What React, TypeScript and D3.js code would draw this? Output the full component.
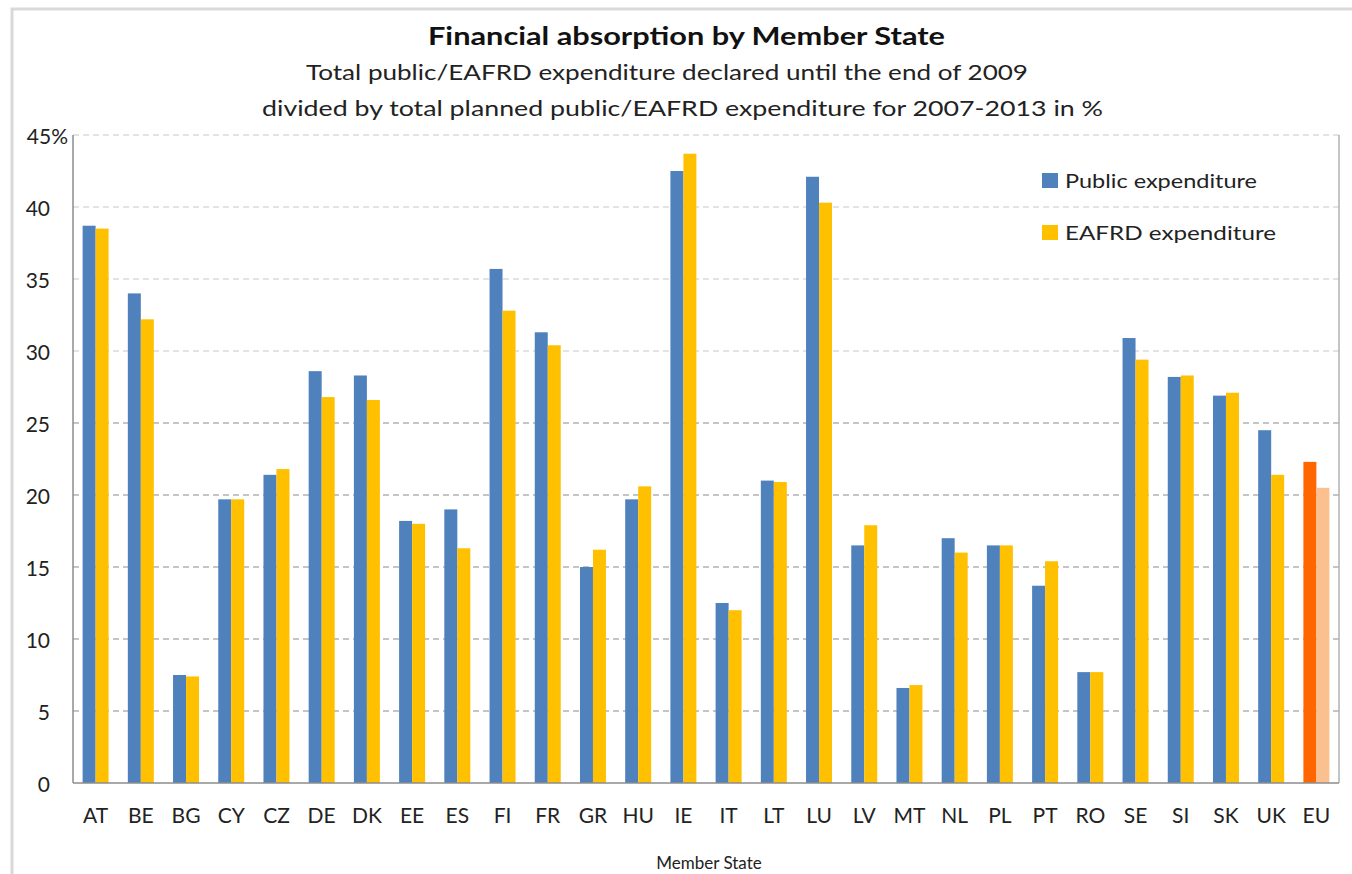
import React from 'react';
import * as d3 from 'd3';

const states = ['AT', 'BE', 'BG', 'CY', 'CZ', 'DE', 'DK', 'EE', 'ES', 'FI', 'FR', 'GR', 'HU', 'IE', 'IT',
  'LT', 'LU', 'LV', 'MT', 'NL', 'PL', 'PT', 'RO', 'SE', 'SI', 'SK', 'UK', 'EU'];
const publicExp = [38.7, 34.0, 7.5, 19.7, 21.4, 28.6, 28.3, 18.2, 19.0, 35.7, 31.3, 15.0, 19.7, 42.5, 12.5,
  21.0, 42.1, 16.5, 6.6, 17.0, 16.5, 13.7, 7.7, 30.9, 28.2, 26.9, 24.5, 22.3];
const eafrdExp = [38.5, 32.2, 7.4, 19.7, 21.8, 26.8, 26.6, 18.0, 16.3, 32.8, 30.4, 16.2, 20.6, 43.7, 12.0,
  20.9, 40.3, 17.9, 6.8, 16.0, 16.5, 15.4, 7.7, 29.4, 28.3, 27.1, 21.4, 20.5];
const yTicks = [0, 5, 10, 15, 20, 25, 30, 35, 40, 45];
const seriesNames = ['Public expenditure', 'EAFRD expenditure'];

const W = 1352, H = 874;
const m = { left: 73, right: 1339, top: 135, bottom: 783 };
const font = 'Lato, "Open Sans", sans-serif';

// colours: EU bars are highlighted
const blue = '#4F81BD', yellow = '#FFC000', euPublic = '#FF6600', euEafrd = '#FAC090';

export default function App() {
  const x = d3.scaleBand<string>().domain(states).range([m.left, m.right]).paddingInner(0).paddingOuter(0);
  const inner = d3.scaleBand<string>().domain(['p', 'e']).range([0, x.bandwidth()]).paddingInner(0).paddingOuter(0.74);
  const y = d3.scaleLinear().domain([0, 45]).range([m.bottom, m.top]);

  const barColor = (s: string, k: string) =>
    s === 'EU' ? (k === 'p' ? euPublic : euEafrd) : (k === 'p' ? blue : yellow);

  return (
    <svg width={W} height={H} style={{ position: 'absolute', left: 0, top: 0, background: '#fff' }}>
      {/* outer chart frame */}
      <rect x={12} y={9} width={W + 10} height={H + 10} fill="#fff" stroke="#d9d9d9" strokeWidth={3} />

      <text x={428} y={45} fontFamily={font} fontWeight={700} fontSize={25} fill="#111"
        textLength={517} lengthAdjust="spacingAndGlyphs">
        Financial absorption by Member State
      </text>
      <text x={306} y={80} fontFamily={font} fontSize={21} fill="#222"
        textLength={722} lengthAdjust="spacingAndGlyphs">
        Total public/EAFRD expenditure  declared until the end of 2009
      </text>
      <text x={262} y={116} fontFamily={font} fontSize={21} fill="#222"
        textLength={841} lengthAdjust="spacingAndGlyphs">
        divided by total planned public/EAFRD  expenditure  for 2007-2013 in %
      </text>

      {/* gridlines */}
      {yTicks.filter(t => t > 0).map(t => (
        <line key={t} x1={m.left} x2={m.right} y1={y(t)} y2={y(t)}
          stroke={t >= 30 ? '#c8c8c8' : '#8c8c8c'} strokeWidth={1.2} strokeDasharray="6,4" />
      ))}
      <line x1={m.right} x2={m.right} y1={m.top} y2={m.bottom} stroke="#b0b0b0" strokeWidth={1.5} />

      {/* bars */}
      {states.map((s, i) => (
        <g key={s}>
          <rect x={(x(s) as number) + (inner('p') as number)} y={y(publicExp[i])}
            width={inner.bandwidth()} height={m.bottom - y(publicExp[i])} fill={barColor(s, 'p')} />
          <rect x={(x(s) as number) + (inner('e') as number)} y={y(eafrdExp[i])}
            width={inner.bandwidth()} height={m.bottom - y(eafrdExp[i])} fill={barColor(s, 'e')} />
        </g>
      ))}

      {/* axes */}
      <line x1={m.left} x2={m.left} y1={m.top} y2={m.bottom} stroke="#8c8c8c" strokeWidth={1.5} />
      <line x1={m.left} x2={m.right} y1={m.bottom} y2={m.bottom} stroke="#8c8c8c" strokeWidth={1.5} />

      {yTicks.map(t => (
        <text key={t} x={t === 45 ? 68 : 50} y={y(t) + 9} textAnchor="end" fontFamily={font} fontSize={21} fill="#222">
          {t === 45 ? '45%' : t}
        </text>
      ))}
      {states.map(s => (
        <text key={s} x={(x(s) as number) + x.bandwidth() / 2} y={823} textAnchor="middle"
          fontFamily={font} fontSize={21} fill="#222">{s}</text>
      ))}
      <text x={709} y={869} textAnchor="middle" fontFamily={font} fontSize={17} fill="#222">Member State</text>

      {/* legend */}
      {seriesNames.map((n, i) => (
        <g key={n} transform={`translate(1042, ${173 + i * 52})`}>
          <rect x={0} y={0} width={16} height={15} fill={i === 0 ? blue : yellow} />
          <text x={23} y={15} fontFamily={font} fontSize={20} fill="#222"
            textLength={i === 0 ? 192 : 211} lengthAdjust="spacingAndGlyphs">{n}</text>
        </g>
      ))}
    </svg>
  );
}
